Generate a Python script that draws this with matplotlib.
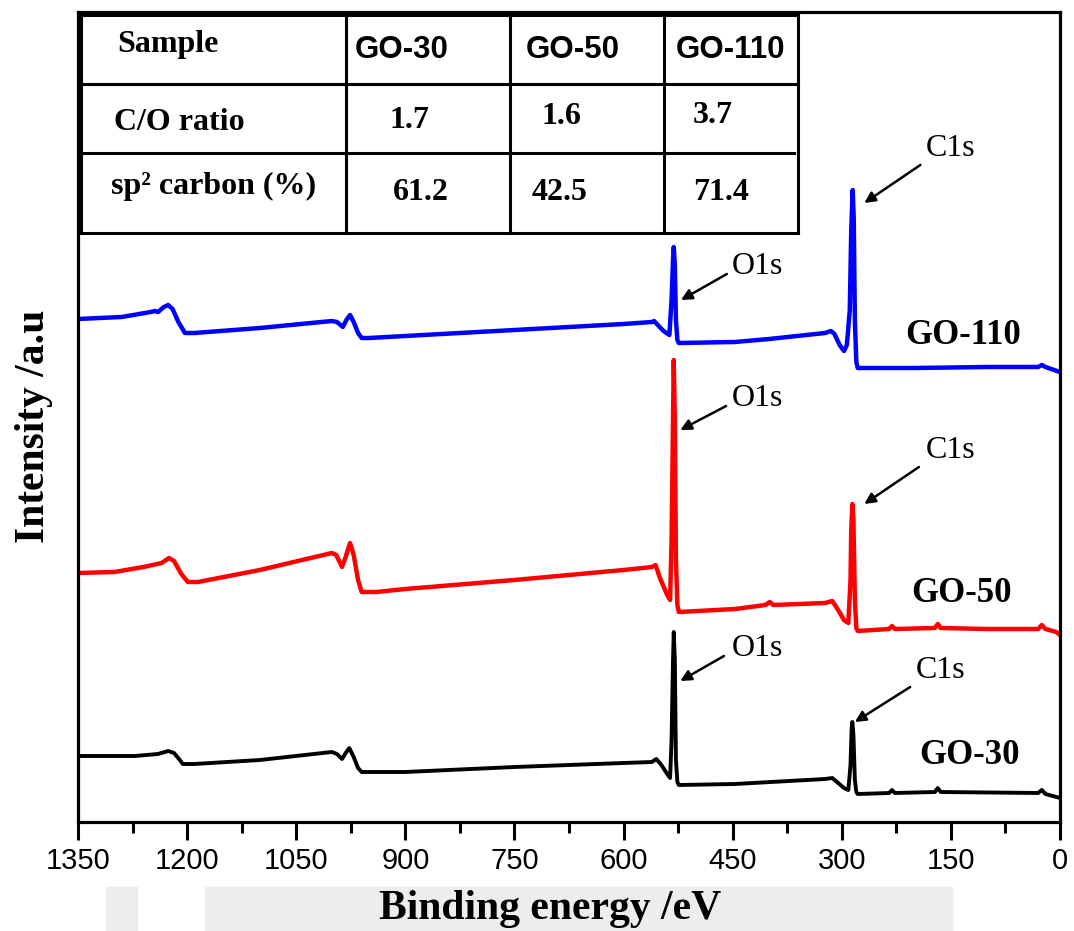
import matplotlib
matplotlib.use('Agg')
import matplotlib.pyplot as plt
from matplotlib.lines import Line2D
from matplotlib.patches import Rectangle
from matplotlib.ticker import MultipleLocator

# binding energy (eV) / intensity (a.u.)
be_110 = [1350, 1290, 1250, 1244, 1240, 1232, 1226, 1220, 1212, 1203, 1190, 1100, 1001, 994, 986, 981,
          976, 971, 965, 960, 950, 900, 750, 600, 561, 558, 553, 545, 537, 534, 532, 531, 529.5, 528,
          526, 524, 447, 400, 323, 315, 310, 303, 297, 293, 289, 287, 285, 283.5, 282, 280, 278, 200,
          100, 30, 25, 20, 0]
int_110 = [503, 505, 510, 511, 510, 515, 517, 513, 500, 489, 489, 494, 501, 500, 495, 502,
           507, 500, 489, 484, 484, 486, 492, 498, 500, 501, 497, 491, 487, 522, 562, 575, 557, 502,
           482, 479, 480, 483, 489, 491, 488, 477, 471, 477, 512, 592, 632, 602, 502, 460, 454, 454,
           455, 455, 457, 455, 450]

be_50 = [1350, 1300, 1260, 1235, 1225, 1218, 1208, 1199, 1185, 1100, 1001, 995, 987, 982, 976, 971,
         965, 960, 940, 900, 750, 600, 561, 556, 550, 540, 536, 534, 532, 531, 529.5, 528, 526, 524,
         447, 405, 399, 394, 323, 313, 305, 297, 291, 288, 287, 285.5, 284, 282, 280, 278, 235, 231,
         227, 172, 168, 164, 100, 30, 25, 20, 5, 0]
int_50 = [249, 250, 255, 259, 264, 261, 248, 240, 240, 252, 269, 267, 255, 265, 279, 267,
          242, 230, 230, 233, 242, 252, 255, 257, 244, 227, 222, 282, 402, 462, 402, 262, 217, 210,
          213, 217, 220, 217, 219, 221, 212, 202, 199, 242, 292, 318, 302, 222, 194, 191, 193, 196,
          193, 194, 198, 194, 193, 193, 197, 193, 190, 187]

be_30 = [1350, 1272, 1240, 1226, 1218, 1210, 1206, 1190, 1100, 1001, 994, 987, 982, 977, 971, 965,
         960, 900, 750, 600, 561, 555, 548, 540, 536, 534, 532, 531, 529.5, 528, 526, 524, 447, 323,
         313, 305, 297, 291, 288, 286.5, 285.5, 284, 282, 280, 278, 235, 231, 227, 172, 168, 164,
         30, 25, 20, 0]
int_30 = [66, 66, 68, 71, 69, 62, 58, 58, 62, 70, 68, 63, 69, 74, 65, 54,
          50, 50, 55, 59, 60, 63, 57, 48, 44, 82, 162, 190, 162, 62, 40, 37, 38, 43,
          44, 39, 34, 32, 57, 92, 100, 87, 42, 30, 28, 29, 32, 29, 30, 34, 30,
          29, 32, 28, 24]

# inset table
samples = ['GO-30', 'GO-50', 'GO-110']
co_ratio = ['1.7', '1.6', '3.7']
sp2_carbon = ['61.2', '42.5', '71.4']
row_names = ['Sample', 'C/O ratio', 'sp² carbon (%)']

W, H = 1074, 931
serif = ['Liberation Serif', 'DejaVu Serif']
sans = ['Liberation Sans', 'DejaVu Sans']


def fx(x):
    return x / W


def fy(y):
    return 1 - y / H


fig = plt.figure(figsize=(W / 100, H / 100), dpi=100)
fig.patch.set_facecolor('white')

# faint watermark band at the bottom of the original
fig.add_artist(Rectangle((fx(205), 0), fx(952) - fx(205), fy(887), transform=fig.transFigure,
                         color='#ededed', zorder=0))
fig.add_artist(Rectangle((fx(106), 0), fx(137) - fx(106), fy(887), transform=fig.transFigure,
                         color='#ededed', zorder=0))

ax = fig.add_axes([fx(78), fy(822), fx(1060) - fx(78), fy(12) - fy(822)])
ax.set_facecolor('none')

ax.plot(be_110, int_110, color='#0000ff', lw=3.2, solid_joinstyle='round')
ax.plot(be_50, int_50, color='#ff0000', lw=3.2, solid_joinstyle='round')
ax.plot(be_30, int_30, color='black', lw=2.8, solid_joinstyle='round')

ax.set_xlim(1350, 0)
ax.set_ylim(0, 810)
ax.xaxis.set_major_locator(MultipleLocator(150))
ax.xaxis.set_minor_locator(MultipleLocator(75))
ax.set_yticks([])
for s in ax.spines.values():
    s.set_linewidth(2.3)
ax.tick_params(axis='x', which='major', direction='out', length=13, width=2.2, pad=5, labelsize=21)
ax.tick_params(axis='x', which='minor', direction='out', length=8, width=2.2)
for lab in ax.get_xticklabels():
    lab.set_family(sans)

ax.set_xlabel('Binding energy /eV', family=serif, fontweight='bold', fontsize=30)
ax.xaxis.set_label_coords(0.4807, -0.084)
ax.set_ylabel('Intensity /a.u', family=serif, fontweight='bold', fontsize=30)
ax.yaxis.set_label_coords(-0.0255, 0.489)

# peak annotations: (text pos, arrow tail, arrow head)
notes = [
    ('C1s', (151, 673), (192, 657), (269, 619)),
    ('O1s', (416, 555), (458, 548), (521, 522)),
    ('O1s', (416, 424), (459, 416), (522, 392)),
    ('C1s', (151, 372), (194, 355), (269, 318)),
    ('O1s', (416, 173), (462, 166), (522, 141)),
    ('C1s', (164, 152), (206, 135), (282, 100)),
]
for txt, tpos, tail, head in notes:
    ax.annotate('', xy=head, xytext=tail,
                arrowprops=dict(arrowstyle='-|>', color='black', lw=1.8, mutation_scale=16,
                                shrinkA=0, shrinkB=0))
    ax.text(tpos[0], tpos[1], txt, family=serif, fontsize=23, ha='center', va='center')

ax.text(133, 487, 'GO-110', family=serif, fontweight='bold', fontsize=25, ha='center', va='center')
ax.text(135, 229, 'GO-50', family=serif, fontweight='bold', fontsize=25, ha='center', va='center')
ax.text(124, 67, 'GO-30', family=serif, fontweight='bold', fontsize=25, ha='center', va='center')

# table grid (pixel positions of the original)
tl = 2.2
hlines = [(15, 81, 798), (84, 81, 798), (153, 81, 794), (233, 81, 798)]
vlines = [81, 346, 510, 664, 798]
for y, x0, x1 in hlines:
    fig.add_artist(Line2D([fx(x0), fx(x1)], [fy(y), fy(y)], color='black', lw=tl,
                          transform=fig.transFigure))
for x in vlines:
    fig.add_artist(Line2D([fx(x), fx(x)], [fy(15), fy(233)], color='black', lw=tl,
                          transform=fig.transFigure))

row_x = [117, 114, 111]
row_base = [52, 130, 194]
for name, x, y in zip(row_names, row_x, row_base):
    fig.text(fx(x), fy(y), name, family=serif, fontweight='bold', fontsize=23, va='baseline')

head_x = [355, 526, 676]
for s, x in zip(samples, head_x):
    fig.text(fx(x), fy(58), s, family=sans, fontweight='bold', fontsize=22.5, va='baseline')

co_pos = [(389, 128), (541, 124), (693, 123)]
for v, (x, y) in zip(co_ratio, co_pos):
    fig.text(fx(x), fy(y), v, family=serif, fontweight='bold', fontsize=23, va='baseline')

sp_pos = [(393, 200), (532, 200), (693, 200)]
for v, (x, y) in zip(sp2_carbon, sp_pos):
    fig.text(fx(x), fy(y), v, family=serif, fontweight='bold', fontsize=23, va='baseline')

fig.savefig('out.png', dpi=100)
